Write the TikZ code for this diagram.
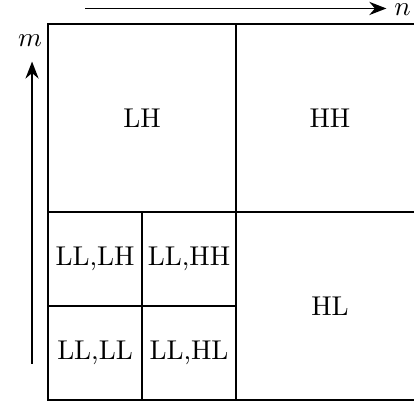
\documentclass[tikz,border=0pt]{standalone}
\usepackage{tikz}
\usetikzlibrary{arrows.meta}

\begin{document}
\begin{tikzpicture}[
  x=1.215cm, y=1.215cm,
  big/.style={draw, line width=1pt, minimum width=2.43cm, minimum height=2.43cm, inner sep=0pt},
  small/.style={draw, line width=1pt, minimum width=1.215cm, minimum height=1.215cm, inner sep=0pt},
  axis/.style={-{Stealth[length=2.2mm,width=1.7mm]}, line width=0.7pt}
]
\useasboundingbox (-0.511,-0.021) rectangle (3.894,4.255);

% subbands
\node[big] (lh) at (1,3) {LH};
\node[big] (hh) at (3,3) {HH};
\node[big] (hl) at (3,1) {HL};
\node[small] (lllh) at (0.5,1.5) {LL,LH};
\node[small] (llhh) at (1.5,1.5) {LL,HH};
\node[small] (llll) at (0.5,0.5) {LL,LL};
\node[small] (llhl) at (1.5,0.5) {LL,HL};

% axes
\coordinate (nstart) at (0.394,4.165);
\coordinate (nend) at (3.60,4.165);
\node[anchor=west, inner sep=0pt] (nlab) at (3.68,4.15) {$n$};
\draw[axis] (nstart) -- (nend);
\coordinate (mstart) at (-0.17,0.383);
\node[inner sep=1pt] (mlab) at (-0.19,3.82) {$m$};
\coordinate (mend) at (-0.17,3.6);
\draw[axis] (mstart) -- (mend);
\end{tikzpicture}
\end{document}
